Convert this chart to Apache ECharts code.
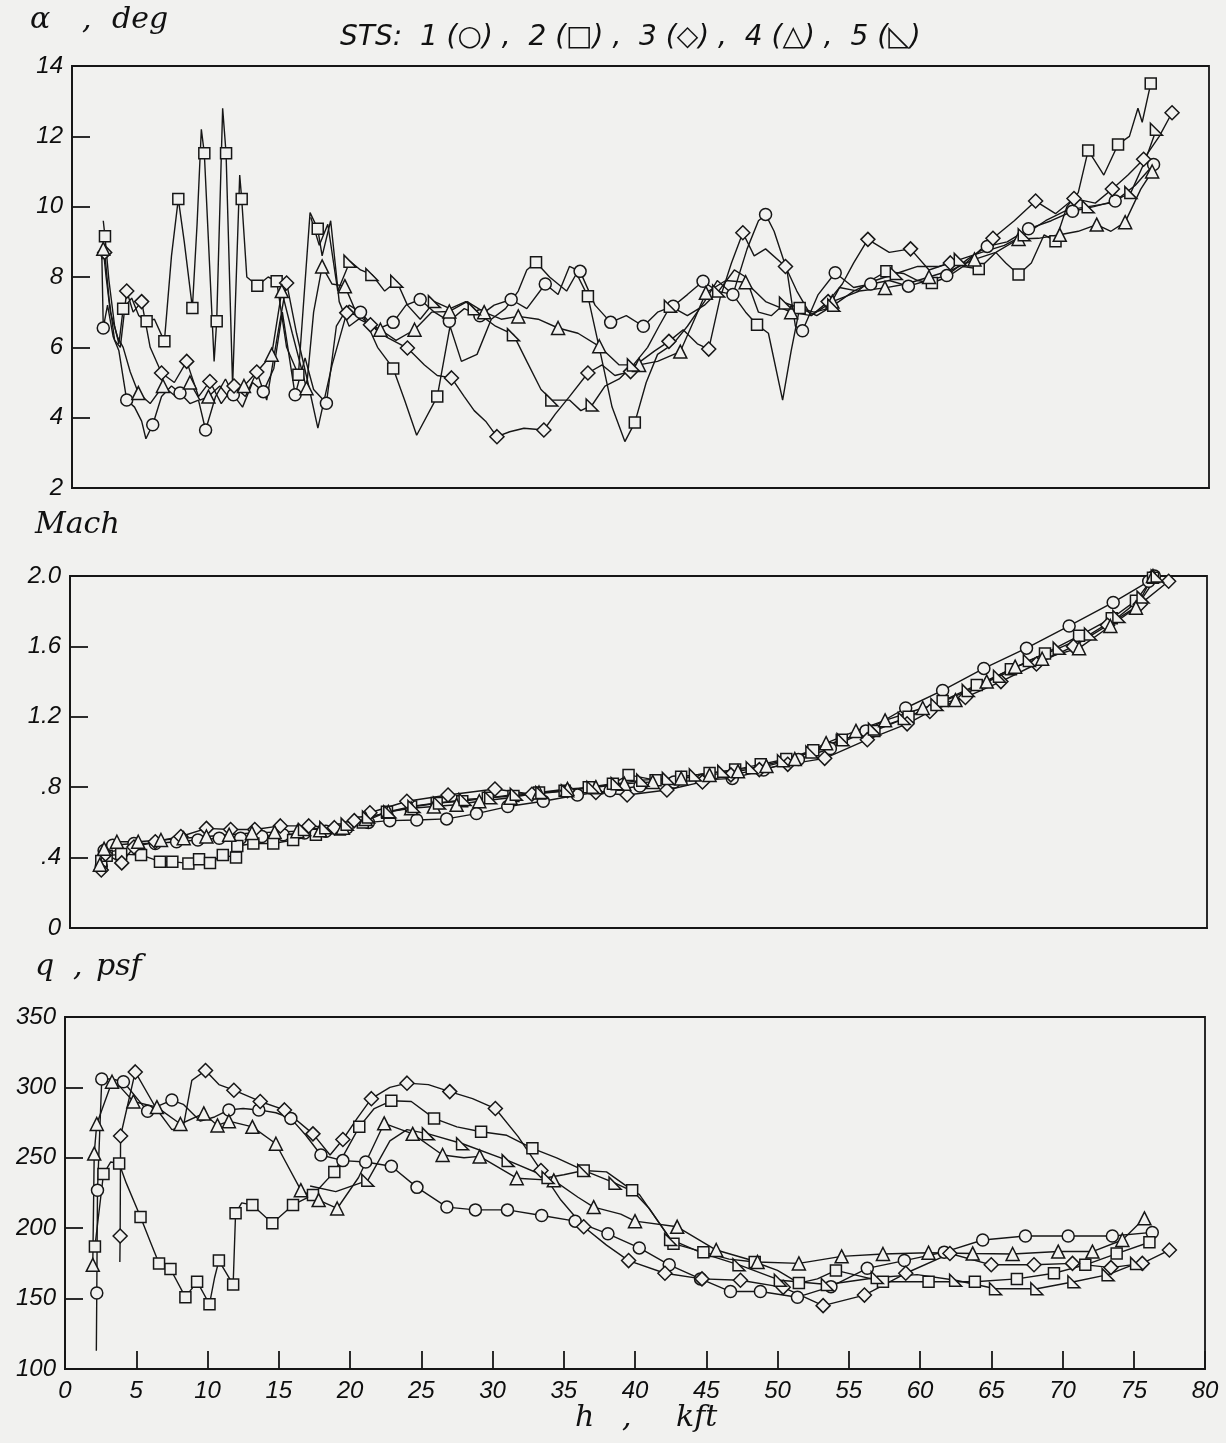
<!DOCTYPE html>
<html>
<head>
<meta charset="utf-8">
<script src="https://cdn.jsdelivr.net/npm/echarts@6/dist/echarts.min.js"></script>
<style>
html,body{margin:0;padding:0;background:#f1f1ef;}
#chart{width:1226px;height:1443px;}
</style>
</head>
<body>
<div id="chart"></div>
<script>
// ---------- x range / tick labels ----------
const hTicks = [0,5,10,15,20,25,30,35,40,45,50,55,60,65,70,75,80];
const stsNames = ['STS 1','STS 2','STS 3','STS 4','STS 5'];

// ---------- alpha, deg  (marks = points with symbol, path = extra line vertices) ----------
const a1Marks = [[2.2,6.55],[3.85,4.5],[5.68,3.8],[7.6,4.7],[9.4,3.65],[11.35,4.65],[13.46,4.74],[15.7,4.65],[17.9,4.41],[20.3,7.0],[22.6,6.71],[24.5,7.36],[26.55,6.74],[28.7,6.9],[30.9,7.36],[33.3,7.8],[35.75,8.16],[37.9,6.71],[40.2,6.6],[42.3,7.17],[44.4,7.88],[46.5,7.5],[48.8,9.78],[51.4,6.47],[53.7,8.12],[56.2,7.8],[58.85,7.74],[61.55,8.04],[64.4,8.87],[67.3,9.37],[70.4,9.87],[73.4,10.16],[76.1,11.2]];
const a1Path = [[2.1,8.6],[2.5,7.2],[2.9,6.3],[3.3,5.9],[4.4,4.3],[4.9,3.9],[5.2,3.4],[6.3,4.6],[7.0,4.9],[8.3,4.4],[8.9,4.5],[10.1,4.6],[10.8,5.1],[12.0,4.3],[12.7,5.0],[14.2,5.4],[14.8,7.0],[16.4,5.7],[17.0,4.8],[18.6,6.6],[19.5,7.2],[21.4,6.5],[23.5,7.2],[25.5,7.0],[27.6,7.1],[29.7,7.2],[32.0,7.1],[34.2,7.5],[35.0,8.3],[36.8,7.2],[39.0,6.9],[41.2,7.0],[43.3,7.5],[45.4,7.6],[47.5,8.8],[48.3,9.6],[49.4,9.3],[50.3,8.2],[50.9,6.6],[52.5,7.5],[55.0,7.7],[57.5,7.9],[60.2,7.9],[63.0,8.5],[65.8,9.0],[68.9,9.6],[71.9,10.0],[74.8,10.6]];

const a2Marks = [[2.32,9.16],[3.6,7.1],[5.25,6.74],[6.5,6.17],[7.48,10.22],[8.47,7.12],[9.31,11.52],[10.18,6.74],[10.84,11.52],[11.94,10.22],[13.04,7.75],[14.4,7.88],[15.93,5.22],[17.29,9.37],[22.6,5.4],[25.7,4.6],[32.65,8.42],[36.3,7.45],[39.6,3.86],[48.2,6.64],[51.2,7.12],[57.3,8.16],[60.5,7.83],[63.8,8.23],[66.6,8.07],[69.2,9.02],[71.5,11.6],[73.6,11.77],[75.9,13.5]];
const a2Path = [[2.2,9.6],[2.6,7.9],[3.0,6.6],[3.3,6.1],[4.2,7.4],[4.7,6.9],[5.8,6.8],[7.0,8.6],[7.9,9.0],[8.8,9.5],[9.1,12.2],[10.0,5.6],[10.6,12.8],[11.3,4.9],[11.8,10.9],[12.3,8.0],[13.8,8.0],[15.1,6.0],[16.75,9.83],[17.6,8.6],[18.2,9.6],[18.8,7.3],[19.5,6.6],[20.5,6.9],[21.5,6.0],[23.4,4.5],[24.25,3.5],[26.6,6.6],[27.4,5.6],[28.5,5.8],[29.5,6.8],[30.5,7.1],[31.4,7.6],[32.0,8.2],[33.6,8.0],[34.8,7.6],[35.5,8.1],[37.2,5.8],[38.0,4.3],[38.9,3.32],[40.4,5.0],[41.2,5.8],[42.3,6.1],[43.3,6.6],[44.5,7.3],[45.4,7.9],[46.5,7.5],[47.4,7.0],[49.0,6.4],[50.0,4.5],[50.6,5.9],[52.2,7.0],[53.2,7.1],[54.0,7.7],[55.3,7.6],[56.2,7.9],[58.5,8.1],[59.5,7.9],[61.6,8.0],[62.7,8.3],[65.0,8.7],[65.7,8.4],[67.5,8.4],[68.4,9.2],[70.0,10.0],[70.8,10.4],[72.6,10.9],[74.4,12.0],[75.0,12.8],[75.3,12.4]];

const a3Marks = [[2.3,8.7],[3.85,7.6],[4.9,7.3],[6.3,5.27],[8.07,5.6],[9.7,5.03],[11.4,4.9],[13.0,5.3],[15.1,7.83],[19.33,6.98],[21.0,6.64],[23.6,5.98],[26.7,5.13],[29.9,3.46],[33.2,3.65],[36.3,5.27],[39.3,5.31],[42.0,6.17],[44.8,5.95],[47.2,9.26],[50.2,8.3],[53.2,7.3],[56.0,9.07],[59.0,8.8],[61.8,8.4],[64.8,9.1],[67.8,10.16],[70.5,10.23],[73.2,10.5],[75.4,11.35],[77.4,12.67]];
const a3Path = [[2.2,9.0],[2.6,7.4],[3.0,6.2],[3.4,6.0],[4.3,7.0],[5.5,6.0],[7.2,5.0],[8.9,4.6],[10.5,4.4],[12.2,4.6],[13.7,4.5],[14.4,6.2],[15.8,6.4],[16.6,5.0],[17.3,3.7],[18.3,5.5],[20.2,6.9],[22.1,6.3],[24.8,5.5],[25.7,5.2],[27.6,4.6],[28.3,4.2],[29.1,3.9],[30.8,3.6],[31.8,3.7],[34.0,4.1],[35.0,4.6],[37.3,5.5],[38.2,5.2],[40.0,5.6],[41.0,5.9],[43.0,6.5],[44.0,6.1],[45.6,7.4],[46.4,8.4],[48.0,8.6],[48.8,8.8],[51.0,7.6],[52.0,6.9],[54.2,7.8],[55.0,8.4],[57.5,8.7],[60.3,8.2],[62.9,8.4],[66.3,9.6],[69.2,9.8],[72.0,10.1],[74.3,10.9],[76.5,12.0]];

const a4Marks = [[2.2,8.8],[4.67,4.7],[6.4,4.9],[8.3,5.0],[9.6,4.6],[12.1,4.9],[14.05,5.79],[14.76,7.6],[16.5,4.84],[17.6,8.3],[19.2,7.74],[21.7,6.5],[24.1,6.5],[26.55,7.02],[29.0,7.0],[31.4,6.88],[34.2,6.55],[37.1,6.03],[39.9,5.5],[42.8,5.88],[44.6,7.55],[47.4,7.85],[50.6,7.0],[53.5,7.3],[57.2,7.69],[60.3,8.0],[63.5,8.5],[66.6,9.08],[69.5,9.2],[72.1,9.49],[74.1,9.56],[76.0,11.0]];
const a4Path = [[2.1,8.5],[2.4,8.0],[2.7,7.0],[3.2,6.3],[3.6,6.0],[4.1,5.3],[5.5,4.4],[7.3,4.6],[9.0,4.5],[10.4,4.9],[11.2,4.5],[13.0,5.3],[15.5,6.4],[17.0,7.0],[18.3,7.8],[20.2,6.8],[22.8,6.2],[25.3,7.0],[27.8,7.3],[30.2,6.8],[32.8,6.8],[35.6,6.4],[38.5,5.5],[41.2,5.6],[43.8,6.8],[46.0,7.9],[48.8,7.3],[52.0,6.9],[55.4,7.6],[58.7,7.8],[61.9,8.2],[65.0,8.7],[68.0,9.1],[70.8,9.3],[73.1,9.3],[75.2,10.5]];

const a5Marks = [[19.56,8.45],[21.1,8.07],[22.85,7.88],[25.5,7.3],[28.3,7.1],[31.06,6.36],[33.76,4.5],[36.6,4.36],[39.5,5.5],[42.1,7.17],[45.5,7.6],[50.2,7.26],[53.6,7.2],[58.0,8.1],[62.5,8.5],[67.0,9.2],[71.5,10.0],[74.5,10.4],[76.3,12.2]];
const a5Path = [[16.8,9.7],[17.4,8.9],[18.0,9.5],[18.7,7.6],[20.3,8.2],[22.0,7.6],[23.6,7.2],[24.5,6.8],[26.6,7.1],[27.7,7.3],[28.8,6.9],[29.8,6.6],[32.0,5.6],[33.0,4.8],[35.0,4.5],[35.8,4.2],[37.5,4.9],[38.5,5.1],[40.5,6.0],[41.3,6.6],[43.3,6.9],[44.5,7.2],[46.6,8.2],[47.4,8.0],[48.3,7.0],[49.2,6.9],[51.3,7.1],[52.4,6.9],[55.0,7.6],[56.5,7.9],[59.5,8.3],[61.0,8.3],[64.0,8.7],[65.6,8.9],[68.5,9.6],[70.0,9.9],[73.0,10.1],[75.5,11.3]];

// ---------- Mach ----------
const m1Marks = [[2.2,0.35],[2.4,0.44],[3.0,0.47],[4.5,0.48],[6.0,0.48],[7.5,0.49],[9.0,0.50],[10.5,0.51],[12.0,0.51],[13.5,0.52],[15.0,0.53],[16.5,0.54],[18.0,0.55],[19.5,0.57],[21.0,0.60],[22.5,0.61],[24.4,0.614],[26.5,0.62],[28.6,0.65],[30.8,0.69],[33.3,0.72],[35.7,0.756],[38.0,0.78],[40.1,0.807],[42.5,0.83],[44.5,0.84],[46.6,0.85],[48.8,0.898],[51.25,0.958],[53.5,1.02],[56.0,1.12],[58.8,1.25],[61.4,1.35],[64.3,1.475],[67.3,1.59],[70.3,1.716],[73.4,1.85],[75.9,1.97],[76.3,2.0]];
const m2Marks = [[2.2,0.38],[2.58,0.41],[3.6,0.42],[5.0,0.415],[6.33,0.377],[7.2,0.377],[8.33,0.367],[9.08,0.39],[9.85,0.37],[10.75,0.415],[11.68,0.40],[11.77,0.466],[12.9,0.48],[14.3,0.48],[15.7,0.50],[17.3,0.53],[19.0,0.56],[20.6,0.60],[22.3,0.66],[24.0,0.69],[25.8,0.71],[27.6,0.72],[29.4,0.74],[31.2,0.75],[33.0,0.77],[34.8,0.78],[36.5,0.80],[38.2,0.82],[39.3,0.87],[41.2,0.84],[43.0,0.86],[45.0,0.88],[46.8,0.90],[48.6,0.93],[50.4,0.96],[52.3,1.01],[54.3,1.07],[56.6,1.12],[59.0,1.20],[61.4,1.29],[63.8,1.38],[66.2,1.47],[68.6,1.56],[71.0,1.66],[73.3,1.76],[75.0,1.86],[76.2,1.99]];
const m3Marks = [[2.2,0.33],[2.5,0.42],[3.64,0.37],[4.5,0.46],[6.0,0.49],[7.8,0.52],[9.6,0.566],[11.3,0.56],[13.0,0.56],[14.8,0.58],[16.8,0.58],[18.6,0.57],[20.0,0.61],[21.1,0.655],[23.7,0.72],[26.6,0.756],[29.9,0.79],[32.5,0.76],[35.0,0.78],[37.0,0.77],[39.2,0.756],[42.0,0.784],[44.5,0.83],[46.5,0.87],[48.5,0.90],[50.5,0.93],[53.1,0.964],[56.1,1.07],[58.9,1.16],[60.5,1.23],[63.0,1.31],[65.5,1.40],[68.0,1.50],[70.6,1.60],[73.0,1.72],[75.3,1.84],[77.3,1.97]];
const m4Marks = [[2.1,0.36],[2.4,0.45],[3.3,0.49],[4.8,0.49],[6.4,0.50],[8.0,0.51],[9.6,0.52],[11.2,0.53],[12.8,0.54],[14.4,0.545],[16.0,0.55],[17.6,0.555],[19.2,0.57],[20.8,0.62],[22.4,0.66],[24.0,0.68],[25.6,0.69],[27.2,0.70],[28.8,0.72],[31.0,0.74],[33.0,0.77],[35.0,0.79],[37.0,0.80],[39.0,0.82],[41.0,0.83],[43.0,0.85],[45.0,0.87],[47.0,0.89],[49.0,0.92],[51.0,0.96],[53.2,1.05],[55.3,1.12],[57.35,1.18],[60.0,1.25],[62.3,1.295],[64.5,1.40],[66.5,1.485],[68.4,1.53],[71.0,1.59],[73.2,1.716],[75.0,1.82],[76.2,2.0]];
const m5Marks = [[16.5,0.56],[18.0,0.57],[19.5,0.59],[21.0,0.63],[22.5,0.66],[24.2,0.69],[26.0,0.71],[27.8,0.73],[29.6,0.74],[31.4,0.76],[33.2,0.77],[35.0,0.78],[36.8,0.80],[38.5,0.82],[40.3,0.84],[42.1,0.85],[44.0,0.87],[46.0,0.89],[48.0,0.91],[50.2,0.95],[52.2,1.00],[54.4,1.07],[56.6,1.13],[58.7,1.19],[61.0,1.27],[63.2,1.35],[65.4,1.43],[67.5,1.52],[69.6,1.59],[71.8,1.67],[73.8,1.77],[75.5,1.88],[76.5,2.0]];

// ---------- q, psf ----------
const q1Marks = [[2.23,154],[2.28,227],[2.58,306],[4.1,304],[5.8,283],[7.5,291],[11.5,284],[13.6,284],[15.85,278],[17.96,252],[19.5,248],[21.1,247],[22.9,244],[24.7,229],[26.8,215],[28.8,213],[31.05,213],[33.45,209],[35.8,205],[38.1,196],[40.3,186],[42.4,174],[44.6,164],[46.7,155],[48.8,155],[51.4,151],[53.75,158.5],[56.3,171.5],[58.9,177],[61.7,183],[64.4,191.6],[67.4,194.5],[70.4,194.5],[73.5,194.5],[76.3,197]];
const q1Path = [[2.2,113],[3.3,306],[6.6,287],[8.3,288],[9.5,276],[10.5,279],[12.5,285],[14.8,282],[16.9,266]];

const q2Marks = [[2.1,187],[2.7,238.5],[3.8,246],[5.3,208],[6.6,175],[7.4,171],[8.45,151],[9.27,162],[10.14,146],[10.8,177],[11.8,160],[11.97,210.6],[13.15,216.5],[14.55,203.5],[16.0,216.5],[17.4,223.6],[18.9,240],[20.65,272],[22.9,290.5],[25.9,278],[29.2,268.5],[32.8,256.7],[36.4,241],[39.8,227],[42.7,189],[44.8,183],[48.4,176],[51.5,161],[54.1,170],[57.4,162],[60.6,162],[63.85,162],[66.8,164],[69.4,168],[71.6,174],[73.8,182],[76.1,190]];
const q2Path = [[3.2,247],[4.3,232],[6.0,190],[10.5,165],[12.4,218],[21.7,285],[24.3,290],[27.5,272],[31.0,266],[34.5,250],[38.0,240],[41.0,214],[46.6,178],[50.0,170],[52.8,164],[55.8,166]];

const q3Marks = [[3.87,194.5],[3.9,265.5],[4.93,311],[9.86,312],[11.85,298],[13.7,290],[15.4,284],[17.4,267],[19.5,263],[21.5,292],[24.0,303],[27.0,297],[30.2,285],[33.4,241],[36.4,201],[39.55,177],[42.1,168],[44.7,164],[47.4,163],[50.4,158],[53.2,145],[56.1,152.5],[59.0,168],[62.1,182],[65.0,174],[68.0,174],[70.7,175],[73.4,172],[75.6,175],[77.5,184.5]];
const q3Path = [[3.85,176],[6.4,285],[7.5,270],[8.3,272],[8.9,305],[10.8,302],[18.6,252],[20.5,278],[22.8,300],[25.5,302],[28.6,292],[31.8,265],[34.8,220],[38.0,188]];

const q4Marks = [[1.95,174],[2.05,253],[2.23,274],[3.3,304],[4.8,290],[6.45,286],[8.1,274],[9.74,281.5],[10.7,273],[11.5,276],[13.15,272],[14.8,260],[16.55,227],[17.8,220],[19.1,214],[22.4,274.5],[24.4,267],[26.5,252],[29.1,251],[31.7,235.5],[34.3,234],[37.1,215],[40.0,205],[42.96,201],[45.7,184.5],[48.6,176],[51.5,175],[54.5,180],[57.4,181.7],[60.6,182.6],[63.7,182],[66.5,181.7],[69.7,183.4],[72.1,183.4],[74.2,191.6],[75.75,207]];
const q4Path = [[3.9,300],[20.6,236],[28.0,250],[36.0,222],[39.0,210]];

const q5Marks = [[21.25,234],[25.5,267],[27.9,260],[31.1,248],[33.9,236],[36.4,241],[38.6,232],[42.5,192],[47.3,174],[50.2,163],[53.5,160],[57.0,165],[62.5,163],[65.3,157],[68.2,157],[70.8,162],[73.2,167],[75.2,175]];
const q5Path = [[17.2,230],[19.0,226],[22.8,262],[24.0,270],[35.0,238],[40.3,224],[44.8,182],[59.8,167]];

// ---------- assemble ----------
const panels = [
  {marks:[a1Marks,a2Marks,a3Marks,a4Marks,a5Marks], path:[a1Path,a2Path,a3Path,a4Path,a5Path]},
  {marks:[m1Marks,m2Marks,m3Marks,m4Marks,m5Marks], path:[[],[],[],[],[]]},
  {marks:[q1Marks,q2Marks,q3Marks,q4Marks,q5Marks], path:[q1Path,q2Path,q3Path,q4Path,q5Path]}
];

const BG = '#f1f1ef';
const INK = '#161616';
const symbols = ['circle','rect','diamond','triangle','path://M0,0 L0,10 L10,10 Z'];
const symSizes = [12, 11, 14, 13, 12];

const series = [];
panels.forEach((p, pi) => {
  p.marks.forEach((mk, si) => {
    const lineData = mk.concat(p.path[si]).sort((a,b) => a[0]-b[0]);
    series.push({
      name: stsNames[si], type:'line', xAxisIndex:pi, yAxisIndex:pi,
      data: lineData, symbol:'none', showSymbol:false, silent:true,
      lineStyle:{color:INK, width:1.4}, z:2, animation:false
    });
  });
});
panels.forEach((p, pi) => {
  p.marks.forEach((mk, si) => {
    series.push({
      name: stsNames[si], type:'scatter', xAxisIndex:pi, yAxisIndex:pi,
      data: mk, symbol: symbols[si], symbolSize: symSizes[si], silent:true,
      itemStyle:{color:BG, borderColor:INK, borderWidth:1.5, opacity:1},
      z:3, animation:false
    });
  });
});

const tickFont = {fontStyle:'italic', fontFamily:'Liberation Sans', fontSize:24, color:'#0d0d0d'};
const axisLine = {show:true, lineStyle:{color:INK, width:1.8}};
const inTick = {show:true, inside:true, length:18, lineStyle:{color:INK, width:1.8}};

const grids = [
  {left:72, top:66, width:1137, height:422},
  {left:70, top:576, width:1137, height:352},
  {left:65, top:1017, width:1140, height:352}
].map(g => Object.assign(g, {show:true, borderColor:INK, borderWidth:1.8, backgroundColor:'transparent'}));

const xAxes = [0,1,2].map(i => ({
  type:'value', gridIndex:i, min:0, max:80, interval:5,
  axisLine: axisLine, splitLine:{show:false},
  axisTick: i===2 ? inTick : {show:false},
  axisLabel: i===2 ? Object.assign({margin:10}, tickFont) : {show:false}
}));

const yAxes = [
  {min:2, max:14, interval:2, fmt: v => String(v)},
  {min:0, max:2, interval:0.4, fmt: v => v===0 ? '0' : (v<1 ? v.toFixed(1).replace(/^0/,'') : v.toFixed(1))},
  {min:100, max:350, interval:50, fmt: v => String(v)}
].map((a,i) => ({
  type:'value', gridIndex:i, min:a.min, max:a.max, interval:a.interval,
  axisLine: axisLine, splitLine:{show:false}, axisTick: inTick,
  axisLabel: Object.assign({margin:9, formatter:a.fmt}, tickFont)
}));

const titleFont = 'italic 30px "DejaVu Serif"';
function txt(x, y, s, font){ return {type:'text', left:x, top:y, style:{text:s, font:font || titleFont, fill:'#111'}}; }
const chart = echarts.init(document.getElementById('chart'), null, {renderer:'canvas'});
chart.setOption({
  backgroundColor: BG,
  animation:false,
  grid: grids,
  xAxis: xAxes,
  yAxis: yAxes,
  series: series,
  graphic: [
    txt(30, 5, '\u03b1'), txt(82, 5, ','), txt(112, 5, 'deg'),
    txt(340, 24, 'STS:  1 (\u25cb) ,  2 (\u25a1) ,  3 (\u25c7) ,  4 (\u25b3) ,  5 (\u25fa)', 'italic 28px "DejaVu Sans"'),
    txt(35, 510, 'Mach'),
    txt(35, 952, 'q'), txt(73, 952, ','), txt(96, 952, 'psf'),
    txt(575, 1403, 'h'), txt(622, 1403, ','), txt(676, 1403, 'kft')
  ]
});
</script>
</body>
</html>
